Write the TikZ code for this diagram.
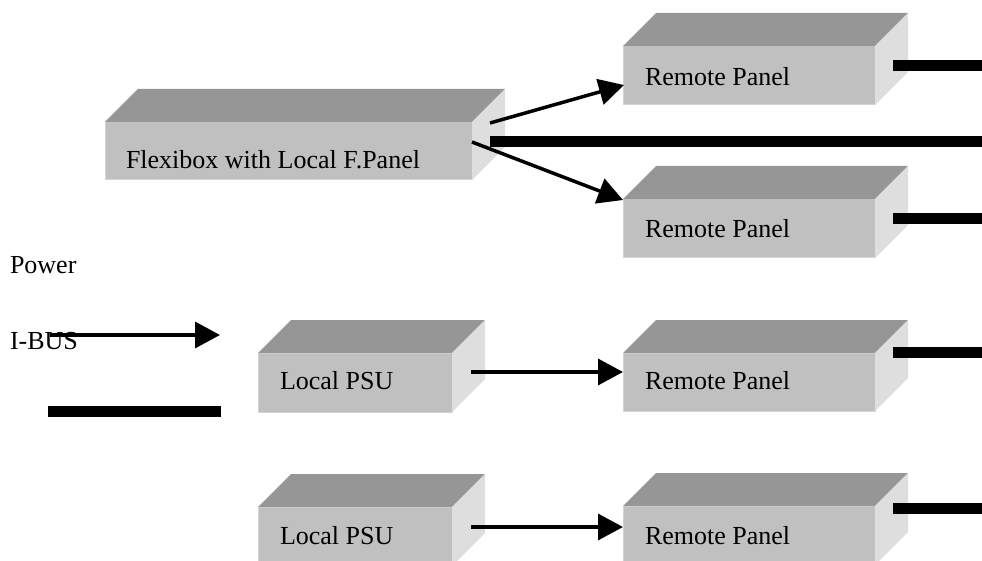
\documentclass[tikz,border=0pt]{standalone}
\usepackage{fontspec}
\setmainfont{Liberation Serif}
\usetikzlibrary{arrows.meta,calc}
\definecolor{frontgray}{HTML}{C0C0C0}
\definecolor{topgray}{HTML}{969696}
\definecolor{sidegray}{HTML}{DEDEDE}
\definecolor{edgegray}{HTML}{D4D4D4}
\tikzset{
  face/.style={rectangle, fill=frontgray, draw=edgegray, line width=1pt, inner sep=0pt, outer sep=0pt},
  topface/.style={fill=topgray},
  sideface/.style={fill=sidegray},
  lbl/.style={anchor=base west, inner sep=0pt, outer sep=0pt, font=\fontsize{26}{30}\selectfont},
  sig/.style={line width=3.5pt, -{Triangle[length=25pt,width=26pt]}},
  bus/.style={line width=11pt, line cap=butt},
}
% name, x1, y1, x2, y2 (front face)
\newcommand\crate[5]{%
  \node[face, minimum width={(#4-#2)*1pt}, minimum height={(#5-#3)*1pt}] (#1) at ({(#2+#4)/2},{(#3+#5)/2}) {};
  \fill[topface] (#1.north west) -- ++(33,-33) -- ($(#1.north east)+(33,-33)$) -- (#1.north east) -- cycle;
  \fill[sideface] (#1.north east) -- ($(#1.north east)+(33,-33)$) -- ($(#1.south east)+(33,-33)$) -- (#1.south east) -- cycle;
}
\begin{document}
\begin{tikzpicture}[x=1pt,y=-1pt]
\useasboundingbox (0,0) rectangle (982,561);
\clip (0,0) rectangle (982,561);

% boxes
\crate{flex}{105}{122}{472}{180}
\crate{rA}{623}{46}{875}{105}
\crate{rB}{623}{199}{875}{258}
\crate{rC}{623}{353}{875}{411}
\crate{rD}{623}{506}{875}{565}
\crate{pA}{258}{353}{452}{412}
\crate{pB}{258}{507}{452}{566}

% labels
\node[lbl] (flext) at (126,169) {Flexibox with Local F.Panel};
\node[lbl] (rAt) at (645,86) {Remote Panel};
\node[lbl] (rBt) at (645,238) {Remote Panel};
\node[lbl] (rCt) at (645,389) {Remote Panel};
\node[lbl] (rDt) at (645,544) {Remote Panel};
\node[lbl] (pAt) at (280,389) {Local PSU};
\node[lbl] (pBt) at (280,544) {Local PSU};
\node[lbl] (powt) at (10,273) {Power};
\node[lbl] (ibust) at (10,349) {I-BUS};

% connector end points
\coordinate (fA) at (490,123);
\coordinate (rAin) at (624,85);
\coordinate (fB) at (472,142);
\coordinate (rBin) at (623,200);
\coordinate (pAout) at (471,372);
\coordinate (rCin) at (623,372);
\coordinate (pBout) at (471,527);
\coordinate (rDin) at (623,527);
\coordinate (legA) at (50,335);
\coordinate (legAe) at (220,335);
\coordinate (legB) at (48,411);
\coordinate (legBe) at (221,411);
\coordinate (fbus) at (490,142);
\coordinate (fbuse) at (982,142);
\coordinate (rAbus) at (893,65.5);
\coordinate (rAbuse) at (982,65.5);
\coordinate (rBbus) at (893,219);
\coordinate (rBbuse) at (982,219);
\coordinate (rCbus) at (893,352.5);
\coordinate (rCbuse) at (982,352.5);
\coordinate (rDbus) at (893,508);
\coordinate (rDbuse) at (982,508);

% signal arrows
\draw[sig] (fA) -- (rAin);
\draw[sig] (fB) -- (rBin);
\draw[sig] (pAout) -- (rCin);
\draw[sig] (pBout) -- (rDin);
\draw[sig] (legA) -- (legAe);

% bus lines
\draw[bus] (fbus) -- (fbuse);
\draw[bus] (rAbus) -- (rAbuse);
\draw[bus] (rBbus) -- (rBbuse);
\draw[bus] (rCbus) -- (rCbuse);
\draw[bus] (rDbus) -- (rDbuse);
\draw[bus] (legB) -- (legBe);
\end{tikzpicture}
\end{document}
